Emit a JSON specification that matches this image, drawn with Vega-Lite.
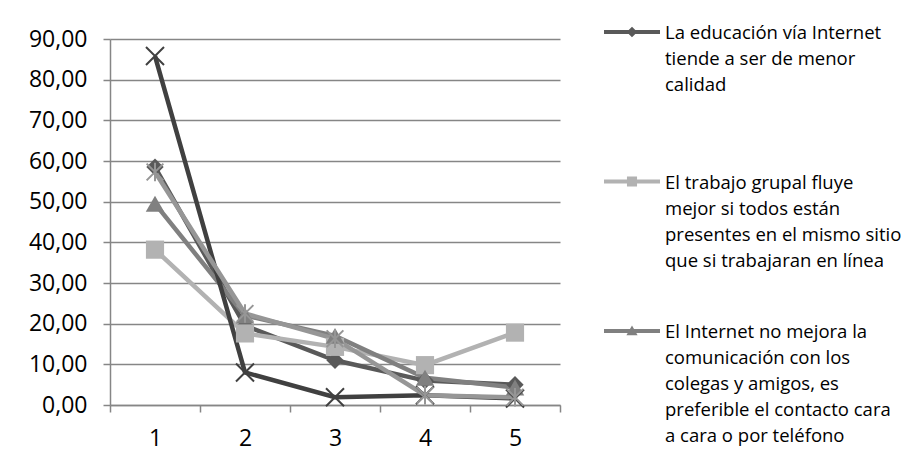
{
  "$schema": "https://vega.github.io/schema/vega-lite/v6.json",
  "autosize": "none",
  "width": 450,
  "height": 366,
  "padding": {"left": 110, "top": 39, "right": 344, "bottom": 63},
  "background": "white",
  "config": {"view": {"stroke": null}, "font": "Open Sans"},
  "data": {"values": [
    {"pos": "1", "series": "La educación vía Internet tiende a ser de menor calidad", "value": 58.5},
    {"pos": "2", "series": "La educación vía Internet tiende a ser de menor calidad", "value": 19.5},
    {"pos": "3", "series": "La educación vía Internet tiende a ser de menor calidad", "value": 11.0},
    {"pos": "4", "series": "La educación vía Internet tiende a ser de menor calidad", "value": 6.0},
    {"pos": "5", "series": "La educación vía Internet tiende a ser de menor calidad", "value": 5.0},
    {"pos": "1", "series": "El trabajo grupal fluye mejor si todos están presentes en el mismo sitio que si trabajaran en línea", "value": 38.2},
    {"pos": "2", "series": "El trabajo grupal fluye mejor si todos están presentes en el mismo sitio que si trabajaran en línea", "value": 17.6},
    {"pos": "3", "series": "El trabajo grupal fluye mejor si todos están presentes en el mismo sitio que si trabajaran en línea", "value": 14.3},
    {"pos": "4", "series": "El trabajo grupal fluye mejor si todos están presentes en el mismo sitio que si trabajaran en línea", "value": 9.8},
    {"pos": "5", "series": "El trabajo grupal fluye mejor si todos están presentes en el mismo sitio que si trabajaran en línea", "value": 17.8},
    {"pos": "1", "series": "El Internet no mejora la comunicación con los colegas y amigos, es preferible el contacto cara a cara o por teléfono", "value": 49.5},
    {"pos": "2", "series": "El Internet no mejora la comunicación con los colegas y amigos, es preferible el contacto cara a cara o por teléfono", "value": 22.0},
    {"pos": "3", "series": "El Internet no mejora la comunicación con los colegas y amigos, es preferible el contacto cara a cara o por teléfono", "value": 17.0},
    {"pos": "4", "series": "El Internet no mejora la comunicación con los colegas y amigos, es preferible el contacto cara a cara o por teléfono", "value": 6.7},
    {"pos": "5", "series": "El Internet no mejora la comunicación con los colegas y amigos, es preferible el contacto cara a cara o por teléfono", "value": 4.3},
    {"pos": "1", "series": "Serie 4", "value": 85.8},
    {"pos": "2", "series": "Serie 4", "value": 8.0},
    {"pos": "3", "series": "Serie 4", "value": 1.9},
    {"pos": "4", "series": "Serie 4", "value": 2.4},
    {"pos": "5", "series": "Serie 4", "value": 1.6},
    {"pos": "1", "series": "Serie 5", "value": 57.3},
    {"pos": "2", "series": "Serie 5", "value": 22.5},
    {"pos": "3", "series": "Serie 5", "value": 16.3},
    {"pos": "4", "series": "Serie 5", "value": 2.4},
    {"pos": "5", "series": "Serie 5", "value": 1.9}
  ]},
  "encoding": {
    "x": {
      "field": "pos", "type": "ordinal",
      "scale": {"type": "band", "paddingInner": 0, "paddingOuter": 0},
      "axis": {
        "title": null, "labelAngle": 0, "labelFontSize": 23, "labelColor": "#000000",
        "labelPadding": 15, "tickBand": "extent", "tickSize": 7, "tickColor": "#868686",
        "tickWidth": 1.5, "domainColor": "#868686", "domainWidth": 1.5, "grid": false
      }
    },
    "y": {
      "field": "value", "type": "quantitative",
      "scale": {"domain": [0, 90], "nice": false},
      "axis": {
        "title": null, "values": [0, 10, 20, 30, 40, 50, 60, 70, 80, 90],
        "labelExpr": "replace(format(datum.value, '.2f'), '.', ',')",
        "labelFontSize": 23, "labelColor": "#000000", "labelPadding": 16,
        "tickSize": 7, "tickColor": "#868686", "tickWidth": 1.5,
        "domainColor": "#868686", "domainWidth": 1.5,
        "grid": true, "gridColor": "#868686", "gridWidth": 1.5
      }
    }
  },
  "layer": [
    {
      "mark": {"type": "line", "strokeWidth": 4.5},
      "encoding": {
        "color": {
          "field": "series", "type": "nominal",
          "scale": {
            "domain": [
              "La educación vía Internet tiende a ser de menor calidad",
              "El trabajo grupal fluye mejor si todos están presentes en el mismo sitio que si trabajaran en línea",
              "El Internet no mejora la comunicación con los colegas y amigos, es preferible el contacto cara a cara o por teléfono",
              "Serie 4", "Serie 5"
            ],
            "range": ["#595959", "#b2b2b2", "#808080", "#404040", "#969696"]
          },
          "legend": {
            "title": null,
            "orient": "none",
            "legendX": 494,
            "legendY": -35,
            "direction": "vertical",
            "values": [
              "La educación vía Internet tiende a ser de menor calidad",
              "El trabajo grupal fluye mejor si todos están presentes en el mismo sitio que si trabajaran en línea",
              "El Internet no mejora la comunicación con los colegas y amigos, es preferible el contacto cara a cara o por teléfono"
            ],
            "labelFontSize": 18.5,
            "labelColor": "#000000",
            "labelLimit": 400,
            "labelBaseline": "top",
            "labelOffset": 5,
            "rowPadding": 6.5,
            "symbolSize": 3136,
            "symbolType": "M-1,-0.075H1V0.075H-1Z",
            "labelExpr": "indexof(datum.label, 'educación') >= 0 ? ['La educación vía Internet', 'tiende a ser de menor', 'calidad', '', ''] : indexof(datum.label, 'trabajo grupal') >= 0 ? ['El trabajo grupal fluye', 'mejor si todos están', 'presentes en el mismo sitio', 'que si trabajaran en línea', ''] : ['El Internet no mejora la', 'comunicación con los', 'colegas y amigos, es', 'preferible el contacto cara', 'a cara o por teléfono']",
            "encode": {
              "labels": {"update": {"lineHeight": {"value": 26}, "dy": {"value": -8}}},
              "symbols": {"update": {
                "shape": {"signal": "indexof(datum.value, 'educación') >= 0 ? 'M-1,-0.075H1V0.075H-1ZM0,-0.19L0.19,0L0,0.19L-0.19,0Z' : indexof(datum.value, 'trabajo grupal') >= 0 ? 'M-1,-0.075H1V0.075H-1ZM-0.18,-0.18H0.18V0.18H-0.18Z' : 'M-1,-0.075H1V0.075H-1ZM0,-0.2L0.2,0.15L-0.2,0.15Z'"},
                "fill": {"scale": "color", "field": "value"},
                "stroke": {"value": "transparent"},
                "strokeWidth": {"value": 0},
                "size": {"value": 3136}
              }}
            }
          }
        }
      }
    },
    {
      "transform": [{"filter": {"field": "series", "equal": "La educación vía Internet tiende a ser de menor calidad"}}],
      "mark": {"type": "point", "filled": true, "opacity": 1, "shape": "diamond", "size": 300, "color": "#595959"}
    },
    {
      "transform": [{"filter": {"field": "series", "equal": "El trabajo grupal fluye mejor si todos están presentes en el mismo sitio que si trabajaran en línea"}}],
      "mark": {"type": "point", "filled": true, "opacity": 1, "shape": "square", "size": 330, "color": "#b2b2b2"}
    },
    {
      "transform": [{"filter": {"field": "series", "equal": "El Internet no mejora la comunicación con los colegas y amigos, es preferible el contacto cara a cara o por teléfono"}}],
      "mark": {"type": "point", "filled": true, "opacity": 1, "shape": "triangle-up", "size": 340, "color": "#808080"}
    },
    {
      "transform": [{"filter": {"field": "series", "equal": "Serie 4"}}],
      "mark": {"type": "point", "filled": false, "opacity": 1, "shape": "M-1,-1L1,1M-1,1L1,-1", "size": 324, "color": "#404040", "strokeWidth": 2}
    },
    {
      "transform": [{"filter": {"field": "series", "equal": "Serie 5"}}],
      "mark": {"type": "point", "filled": false, "opacity": 1, "shape": "M-1,-1L1,1M-1,1L1,-1M0,-1.1V1.1", "size": 280, "color": "#969696", "strokeWidth": 2}
    }
  ]
}
